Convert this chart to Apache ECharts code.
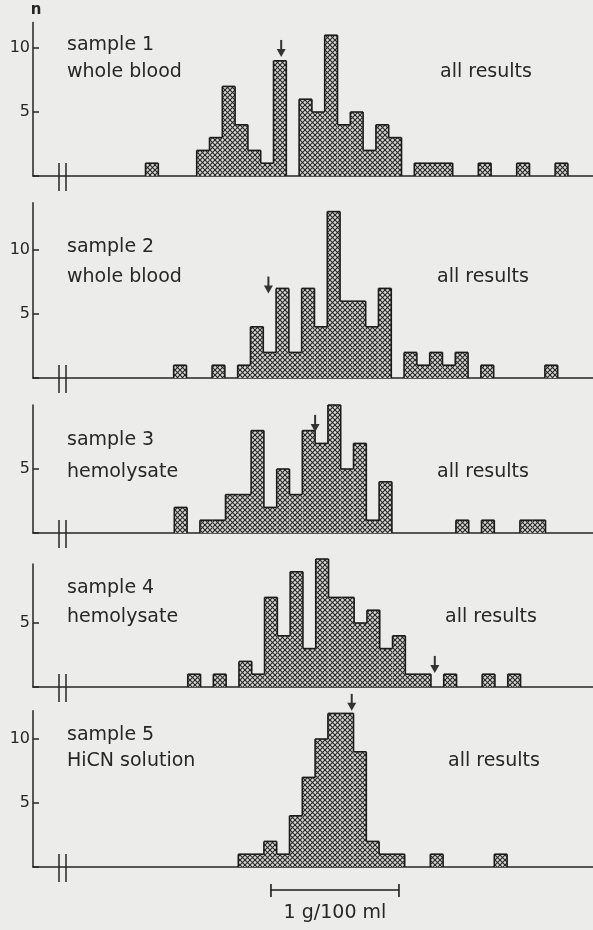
<!DOCTYPE html>
<html>
<head>
<meta charset="utf-8">
<script src="https://cdn.jsdelivr.net/npm/echarts@6/dist/echarts.min.js"></script>
<style>
html, body { margin: 0; background: #ececea; }
#main { width: 593px; height: 930px; }
</style>
</head>
<body>
<div id="main"></div>
<script>
var myChart = echarts.init(document.getElementById('main'));

// histogram classes (0.1 g/100 ml wide), same for every sample
var bins = [-4, -3, -2, -1, 0, 1, 2, 3, 4, 5, 6, 7, 8, 9, 10, 11, 12, 13, 14, 15, 16,
            17, 18, 19, 20, 21, 22, 23, 24, 25, 26, 27, 28];

// number of results per class
var sample1 = [1, 0, 0, 0, 2, 3, 7, 4, 2, 1, 9, 0, 6, 5, 11, 4, 5, 2, 4, 3, 0, 1, 1, 1, 0, 0, 1, 0, 0, 1, 0, 0, 1];
var sample2 = [0, 0, 1, 0, 0, 1, 0, 1, 4, 2, 7, 2, 7, 4, 13, 6, 6, 4, 7, 0, 2, 1, 2, 1, 2, 0, 1, 0, 0, 0, 0, 1, 0];
var sample3 = [0, 0, 2, 0, 1, 1, 3, 3, 8, 2, 5, 3, 8, 7, 10, 5, 7, 1, 4, 0, 0, 0, 0, 0, 1, 0, 1, 0, 0, 1, 1, 0, 0];
var sample4 = [0, 0, 0, 1, 0, 1, 0, 2, 1, 7, 4, 9, 3, 10, 7, 7, 5, 6, 3, 4, 1, 1, 0, 1, 0, 0, 1, 0, 1, 0, 0, 0, 0];
var sample5 = [0, 0, 0, 0, 0, 0, 0, 1, 1, 2, 1, 4, 7, 10, 12, 12, 9, 2, 1, 1, 0, 0, 1, 0, 0, 0, 0, 1, 0, 0, 0, 0, 0];
var samples = [sample1, sample2, sample3, sample4, sample5];

var sampleNames = ['sample 1', 'sample 2', 'sample 3', 'sample 4', 'sample 5'];
var sampleKinds = ['whole blood', 'whole blood', 'hemolysate', 'hemolysate', 'HiCN solution'];
var sideLabel = 'all results';

// mean marker (arrow): class position and height of the tip
var meanArrows = [6.6, 5.4, 9.0, 18.3, 11.86];
var arrowTips = [9.3, 6.6, 7.9, 1.1, 12.2];

var yTicks = [[5, 10], [5, 10], [5], [5], [5, 10]];

// 1 g/100 ml = 10 classes
var scaleBar = [5.55, 15.55];
var scaleText = '1 g/100 ml';

// ---- layout ----
var UNIT = 12.8;                       // px per count
var AXIS_X = 33;
var baselines = [176, 378, 533, 687, 867];
var yMax = [12, 13.7, 10, 9.6, 12.2];
var shift = [0, 0.2, 0.25, 0.3, 0.25]; // small offsets of the scanned panels
var nameY = [45, 247, 440, 588, 735];
var kindY = [72, 277, 472, 617, 761];
var sideX = [440, 437, 437, 445, 448];
var INK = '#262626';
var FONT = '19px "DejaVu Sans"';

// cross hatching fill
var hatch = document.createElement('canvas');
hatch.width = hatch.height = 5;
var ctx = hatch.getContext('2d');
ctx.fillStyle = '#d8d8d6';
ctx.fillRect(0, 0, 5, 5);
ctx.strokeStyle = '#262626';
ctx.lineWidth = 1.1;
for (var o = -5; o <= 5; o += 5) {
    ctx.beginPath(); ctx.moveTo(o, 0); ctx.lineTo(o + 5, 5); ctx.stroke();
    ctx.beginPath(); ctx.moveTo(o, 5); ctx.lineTo(o + 5, 0); ctx.stroke();
}
var hatchFill = { image: hatch, repeat: 'repeat' };

function edge(x1, y1, x2, y2) {
    return { type: 'line', shape: { x1: x1, y1: y1, x2: x2, y2: y2 },
             style: { stroke: '#1c1c1c', lineWidth: 1.6 } };
}

// bars drawn as a step outline, no dividers between neighbouring classes
function histItem(counts) {
    return function (params, api) {
        var i = params.dataIndex;
        var n = counts[i];
        if (!n) return;
        var bin = api.value(0);
        var tl = api.coord([bin, n]);
        var br = api.coord([bin + 1, 0]);
        var left = i > 0 ? counts[i - 1] : 0;
        var right = i < counts.length - 1 ? counts[i + 1] : 0;
        var children = [{
            type: 'rect',
            shape: { x: tl[0], y: tl[1], width: br[0] - tl[0], height: br[1] - tl[1] },
            style: { fill: hatchFill }
        }];
        children.push(edge(tl[0], tl[1], br[0], tl[1]));
        if (left < n) children.push(edge(tl[0], tl[1], tl[0], api.coord([bin, left])[1]));
        if (right < n) children.push(edge(br[0], tl[1], br[0], api.coord([bin + 1, right])[1]));
        return { type: 'group', children: children };
    };
}

function arrowItem(params, api) {
    var p = api.coord([api.value(0), api.value(1)]);
    return {
        type: 'group',
        children: [
            { type: 'line', shape: { x1: p[0], y1: p[1] - 17, x2: p[0], y2: p[1] - 6 },
              style: { stroke: '#333', lineWidth: 2 } },
            { type: 'polygon', shape: { points: [[p[0] - 4.5, p[1] - 8], [p[0] + 4.5, p[1] - 8], [p[0], p[1]]] },
              style: { fill: '#333' } }
        ]
    };
}

function scaleItem(params, api) {
    var a = api.coord([api.value(0), 0]);
    var b = api.coord([api.value(1), 0]);
    var y = a[1] + 23;
    return {
        type: 'group',
        children: [
            edge(a[0], y, b[0], y),
            edge(a[0], y - 6, a[0], y + 7),
            edge(b[0], y - 6, b[0], y + 7),
            { type: 'text', x: (a[0] + b[0]) / 2, y: y + 23,
              style: { text: scaleText, font: '19px "DejaVu Sans"', fill: INK, align: 'center', verticalAlign: 'middle' } }
        ]
    };
}

var grids = [], xAxes = [], yAxes = [], series = [], graphics = [];

graphics.push({ type: 'text', x: AXIS_X + 3, y: 10,
    style: { text: 'n', font: 'bold 15px "DejaVu Sans"', fill: INK, align: 'center', verticalAlign: 'middle' } });

samples.forEach(function (counts, i) {
    var h = yMax[i] * UNIT;
    grids.push({ left: AXIS_X, width: 593 - AXIS_X, top: baselines[i] - h, height: h });
    xAxes.push({
        gridIndex: i, type: 'value',
        min: -12.79 - shift[i], max: 30.96 - shift[i],
        axisLine: { onZero: false, lineStyle: { color: INK, width: 1.5 } },
        axisTick: { show: false }, axisLabel: { show: false }, splitLine: { show: false }
    });
    yAxes.push({
        gridIndex: i, type: 'value', min: 0, max: yMax[i], interval: 5,
        axisLine: { show: true, onZero: false, lineStyle: { color: INK, width: 1.5 } },
        axisTick: { show: true, inside: true, length: 6, lineStyle: { color: INK, width: 1.5 } },
        axisLabel: {
            margin: 3, fontSize: 16, fontFamily: 'DejaVu Sans', color: INK,
            showMaxLabel: false,
            formatter: function (v) { return yTicks[i].indexOf(v) >= 0 ? String(v) : ''; }
        },
        splitLine: { show: false }
    });
    series.push({
        type: 'custom', name: sampleNames[i], xAxisIndex: i, yAxisIndex: i,
        data: bins.map(function (b, k) { return [b, counts[k]]; }),
        renderItem: histItem(counts), silent: true
    });
    series.push({
        type: 'custom', name: 'mean ' + (i + 1), xAxisIndex: i, yAxisIndex: i,
        data: [[meanArrows[i], arrowTips[i]]], renderItem: arrowItem, silent: true
    });

    // axis break marks
    [59, 66].forEach(function (x) {
        graphics.push({ type: 'line', shape: { x1: x, y1: baselines[i] - 13, x2: x, y2: baselines[i] + 15 },
                        style: { stroke: INK, lineWidth: 1.5 } });
    });
    graphics.push({ type: 'text', x: 67, y: nameY[i],
        style: { text: sampleNames[i], font: FONT, fill: INK, verticalAlign: 'middle' } });
    graphics.push({ type: 'text', x: 67, y: kindY[i],
        style: { text: sampleKinds[i], font: FONT, fill: INK, verticalAlign: 'middle' } });
    graphics.push({ type: 'text', x: sideX[i], y: kindY[i],
        style: { text: sideLabel, font: FONT, fill: INK, verticalAlign: 'middle' } });
});

series.push({
    type: 'custom', name: 'scale', xAxisIndex: 4, yAxisIndex: 4,
    data: [scaleBar], renderItem: scaleItem, silent: true
});

option = {
    backgroundColor: '#ececea',
    animation: false,
    grid: grids,
    xAxis: xAxes,
    yAxis: yAxes,
    series: series,
    graphic: graphics
};

myChart.setOption(option);
</script>
</body>
</html>
